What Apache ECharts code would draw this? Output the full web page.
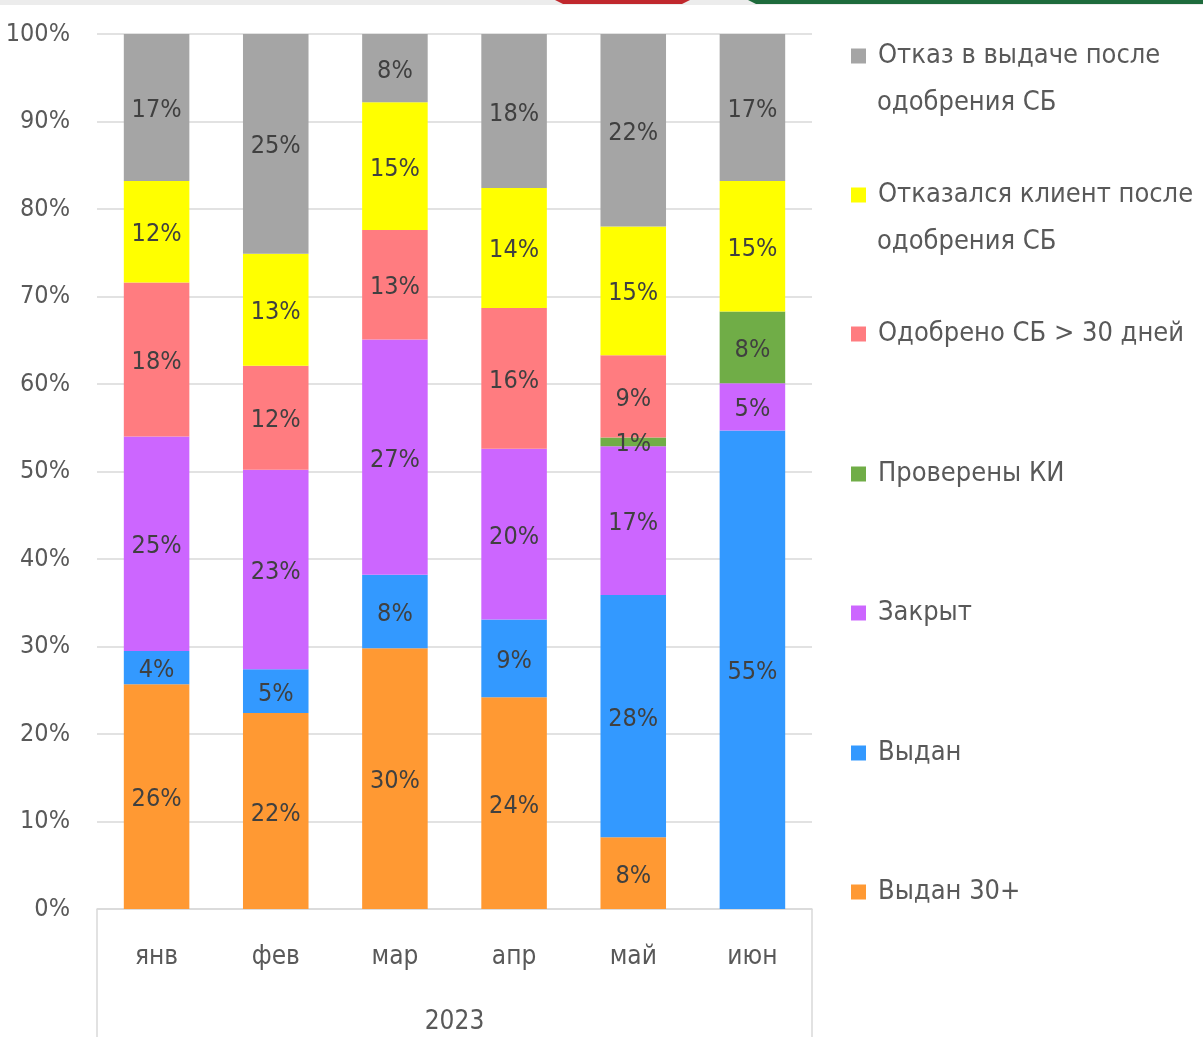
<!DOCTYPE html>
<html>
<head>
<meta charset="utf-8">
<script src="https://cdn.jsdelivr.net/npm/echarts@6/dist/echarts.min.js"></script>
<style>
  html, body { margin: 0; padding: 0; background: #fff; }
  #main { width: 1203px; height: 1037px; }
</style>
</head>
<body>
<div id="main"></div>
<script>
// months and year (two-level category axis)
var months = ['янв', 'фев', 'мар', 'апр', 'май', 'июн'];
var years = ['2023'];
var yTicks = [0, 10, 20, 30, 40, 50, 60, 70, 80, 90, 100];

// shares in %, stacked bottom -> top
var issued30 = [25.7, 22.4, 29.8, 24.2, 8.2, 0];
var issued = [3.8, 5.0, 8.4, 8.9, 27.7, 54.7];
var closedShare = [24.5, 22.8, 26.9, 19.5, 17.0, 5.4];
var checkedKI = [0, 0, 0, 0, 1.0, 8.2];
var approved30 = [17.6, 11.9, 12.5, 16.1, 9.4, 0];
var clientRefused = [11.6, 12.8, 14.6, 13.7, 14.7, 14.9];
var refusedAfter = [16.8, 25.1, 7.8, 17.6, 22.0, 16.8];

var seriesDefs = [
    { name: 'Выдан 30+', data: issued30, color: '#ff9933' },
    { name: 'Выдан', data: issued, color: '#3399ff' },
    { name: 'Закрыт', data: closedShare, color: '#cc66ff' },
    { name: 'Проверены КИ', data: checkedKI, color: '#70ad47' },
    { name: 'Одобрено СБ > 30 дней', data: approved30, color: '#ff7c80' },
    { name: 'Отказался клиент после', data: clientRefused, color: '#ffff00' },
    { name: 'Отказ в выдаче после', data: refusedAfter, color: '#a5a5a5' }
];

var FONT = "'DejaVu Sans Condensed', 'Noto Sans', sans-serif";

var chart = echarts.init(document.getElementById('main'));

// legend: one component per item, top to bottom is reverse stack order
var legendTops = [56, 195, 334, 474, 613, 753, 892];
var legends = seriesDefs.slice().reverse().map(function (s, i) {
    return {
        left: 851,
        top: legendTops[i] - 17,
        padding: 0,
        orient: 'vertical',
        selectedMode: false,
        data: [s.name],
        itemWidth: 15,
        itemHeight: 15,
        icon: 'rect',
        textStyle: { fontFamily: FONT, fontSize: 27, color: '#595959', lineHeight: 34, padding: [0, 0, 0, 7] }
    };
});

var option = {
    animation: false,
    backgroundColor: '#fff',
    textStyle: { fontFamily: FONT },
    grid: { left: 97, right: 391, top: 34, bottom: 128 },
    legend: legends,
    xAxis: [
        {
            type: 'category',
            data: months,
            axisLine: { lineStyle: { color: '#d9d9d9', width: 1.5 } },
            axisTick: { show: false },
            axisLabel: { fontFamily: FONT, fontSize: 26, color: '#595959', margin: 35 }
        },
        {
            type: 'category',
            data: years,
            position: 'bottom',
            axisLine: { show: false },
            axisTick: { show: false },
            axisLabel: { fontFamily: FONT, fontSize: 26, color: '#595959', margin: 100 }
        }
    ],
    yAxis: {
        type: 'value',
        min: 0,
        max: 100,
        interval: 10,
        axisLine: { show: false },
        axisTick: { show: false },
        splitLine: { lineStyle: { color: '#d9d9d9', width: 1.5 } },
        axisLabel: { fontFamily: FONT, fontSize: 25, color: '#595959', margin: 27, padding: [5, 0, 0, 0], formatter: '{value}%' }
    },
    series: seriesDefs.map(function (s) {
        return {
            name: s.name,
            type: 'bar',
            stack: 'total',
            barWidth: '55%',
            data: s.data,
            itemStyle: { color: s.color },
            label: {
                show: true,
                position: 'inside',
                offset: [0, 3],
                fontFamily: FONT,
                fontSize: 25,
                color: '#404040',
                formatter: function (p) { return p.value > 0 ? Math.round(p.value) + '%' : ''; }
            }
        };
    }),
    graphic: [
        // slide frame bits at the very top
        { type: 'rect', shape: { x: 0, y: 0, width: 1203, height: 5 }, style: { fill: '#ececec' }, silent: true },
        { type: 'polygon', shape: { points: [[555, 0], [690, 0], [682, 4], [563, 4]] }, style: { fill: '#c0282d' }, silent: true },
        { type: 'polygon', shape: { points: [[748, 0], [1203, 0], [1203, 4], [756, 4]] }, style: { fill: '#1e6b3c' }, silent: true },
        // multi-level category box sides
        { type: 'line', shape: { x1: 97, y1: 909, x2: 97, y2: 1037 }, style: { stroke: '#d9d9d9', lineWidth: 1.5 }, silent: true },
        { type: 'line', shape: { x1: 812, y1: 909, x2: 812, y2: 1037 }, style: { stroke: '#d9d9d9', lineWidth: 1.5 }, silent: true },
        // second lines of wrapped legend names
        { type: 'text', left: 877, top: 103 - 17, style: { text: 'одобрения СБ', font: '27px ' + FONT, fill: '#595959', lineHeight: 34 } },
        { type: 'text', left: 877, top: 242 - 17, style: { text: 'одобрения СБ', font: '27px ' + FONT, fill: '#595959', lineHeight: 34 } }
    ]
};

chart.setOption(option);
</script>
</body>
</html>
